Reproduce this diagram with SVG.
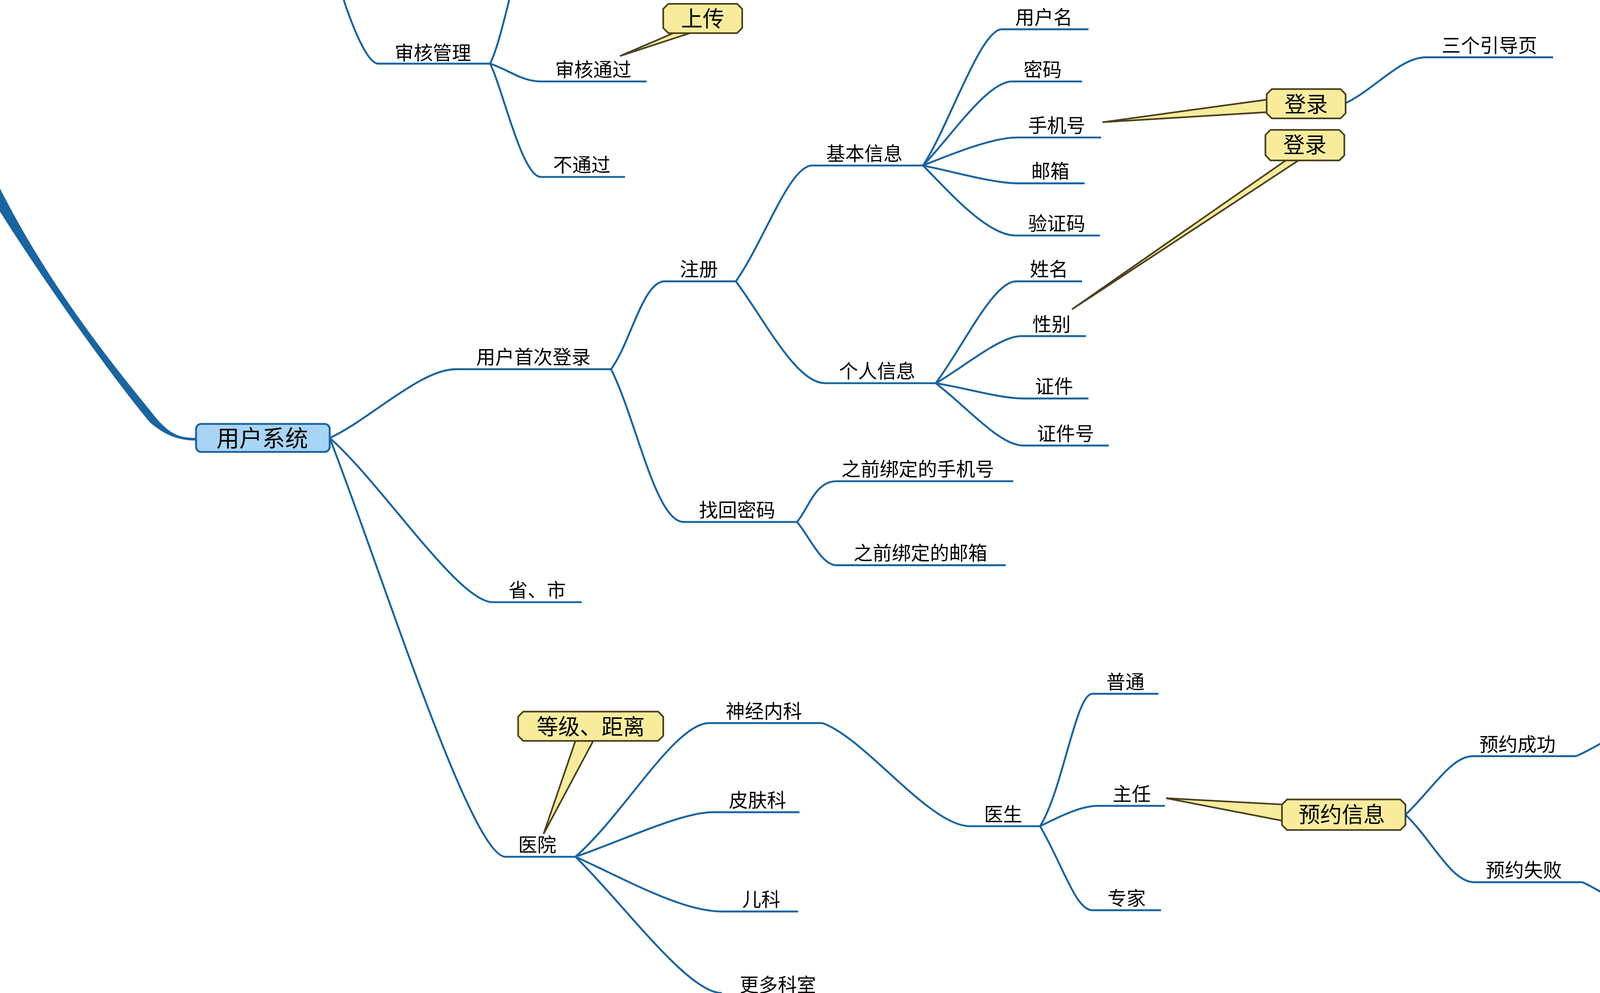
<svg xmlns="http://www.w3.org/2000/svg" width="5110" height="2543" viewBox="0 0 5110 2543">
<style>
.c{fill:none;stroke:#1a64a0;stroke-width:1.5}
.t{font-family:"Noto Sans CJK SC","Liberation Sans",sans-serif;font-size:15px;fill:#000;text-anchor:middle}
.r{font-size:18px}
.co{fill:#f8ec9c;stroke:#4a4020;stroke-width:1.3}
.ct{font-size:17px}
</style>
<rect width="5110" height="2543" fill="#fff"/>
<g transform="scale(3.259 3.2602)">
<g id="connectors">
<path d="M-4 140 C40 230 100 300 124 330 C135 342 142 344 154 344 L154 346 C140 346 130 342 118 332 C95 305 40 230 -4 160 Z" fill="#1a64a0"/>
<path class="c" d="M270 0 C280 30 290 50 297 50 L385 50"/>
<path class="c" d="M385 50 C390 40 395 20 400 0"/>
<path class="c" d="M385 50 C400 55 410 64 425 64 L508 64"/>
<path class="c" d="M385 50 C395 70 410 139 425 139 L491 139"/>
<path class="c" d="M259 344 C290 330 330 290 358 290 L480 290"/>
<path class="c" d="M480 290 C495 270 505 221 522 221 L578 221"/>
<path class="c" d="M578 221 C600 190 620 130 638 130 L725 130"/>
<path class="c" d="M725 130 C745 100 770 23 787 23 L855 23"/>
<path class="c" d="M725 130 C745 110 775 64 795 64 L850 64"/>
<path class="c" d="M725 130 C750 120 780 108 799 108 L865 108"/>
<path class="c" d="M725 130 C750 135 780 144 800 144 L852 144"/>
<path class="c" d="M725 130 C745 150 775 185 798 185 L864 185"/>
<path class="c" d="M578 221 C600 250 625 301 648 301 L735 301"/>
<path class="c" d="M735 301 C755 275 780 221 798 221 L850 221"/>
<path class="c" d="M735 301 C755 290 785 264 802 264 L853 264"/>
<path class="c" d="M735 301 C760 305 785 313 804 313 L855 313"/>
<path class="c" d="M735 301 C760 320 785 350 804 350 L871 350"/>
<path class="c" d="M480 290 C500 330 515 410 537 410 L626 410"/>
<path class="c" d="M626 410 C635 400 640 378 657 378 L796 378"/>
<path class="c" d="M626 410 C635 420 645 444 657 444 L790 444"/>
<path class="c" d="M259 344 C300 380 360 473 387 473 L457 473"/>
<path class="c" d="M259 344 C300 450 370 673 397 673 L452 673"/>
<path class="c" d="M452 673 C490 640 530 568 557 568 L646 568"/>
<path class="c" d="M452 673 C490 660 535 638 560 638 L628 638"/>
<path class="c" d="M452 673 C490 690 535 716 567 716 L627 716"/>
<path class="c" d="M452 673 C490 710 540 780 567 780"/>
<path class="c" d="M646 568 C680 580 730 649 762 649 L817 649"/>
<path class="c" d="M817 649 C835 620 845 545 858 545 L910 545"/>
<path class="c" d="M817 649 C835 640 850 633 862 633 L915 633"/>
<path class="c" d="M817 649 C835 680 845 715 858 715 L912 715"/>
<path class="c" d="M1057 81 C1080 70 1100 45 1120 45 L1220 45"/>
<path class="c" d="M1104 640 C1125 620 1140 594 1157 594 L1238 594"/>
<path class="c" d="M1238 594 C1270 580 1300 552 1330 552 L1388 552"/>
<path class="c" d="M1388 552 C1410 558 1440 576 1455 576 L1568 576"/>
<path class="c" d="M1104 640 C1125 660 1140 693 1158 693 L1243 693"/>
<path class="c" d="M1243 693 C1280 710 1310 746 1340 746 L1465 746"/>
</g>
<g id="root"><rect x="154" y="333" width="105" height="22" rx="4" fill="#a8d4f5" stroke="#1a64a0" stroke-width="1.5"/><text class="t r" x="206" y="351">用户系统</text></g>
<g id="n1"><text class="t" x="340" y="47">审核管理</text></g>
<g id="n2"><text class="t" x="466" y="60">审核通过</text></g>
<g id="n3"><text class="t" x="457" y="135">不通过</text></g>
<g id="n4"><text class="t" x="419" y="286">用户首次登录</text></g>
<g id="n5"><text class="t" x="549" y="217">注册</text></g>
<g id="n6"><text class="t" x="679" y="126">基本信息</text></g>
<g id="n7"><text class="t" x="820" y="19">用户名</text></g>
<g id="n8"><text class="t" x="819" y="60">密码</text></g>
<g id="n9"><text class="t" x="830" y="104">手机号</text></g>
<g id="n10"><text class="t" x="825" y="140">邮箱</text></g>
<g id="n11"><text class="t" x="830" y="181">验证码</text></g>
<g id="n12"><text class="t" x="689" y="297">个人信息</text></g>
<g id="n13"><text class="t" x="824" y="217">姓名</text></g>
<g id="n14"><text class="t" x="826" y="260">性别</text></g>
<g id="n15"><text class="t" x="828" y="309">证件</text></g>
<g id="n16"><text class="t" x="837" y="346">证件号</text></g>
<g id="n17"><text class="t" x="579" y="406">找回密码</text></g>
<g id="n18"><text class="t" x="721" y="374">之前绑定的手机号</text></g>
<g id="n19"><text class="t" x="723" y="440">之前绑定的邮箱</text></g>
<g id="n20"><text class="t" x="422" y="469">省、市</text></g>
<g id="n21"><text class="t" x="422" y="669">医院</text></g>
<g id="n22"><text class="t" x="600" y="564">神经内科</text></g>
<g id="n23"><text class="t" x="595" y="634">皮肤科</text></g>
<g id="n24"><text class="t" x="598" y="712">儿科</text></g>
<g id="n25"><text class="t" x="611" y="779">更多科室</text></g>
<g id="n26"><text class="t" x="788" y="645">医生</text></g>
<g id="n27"><text class="t" x="884" y="541">普通</text></g>
<g id="n28"><text class="t" x="889" y="629">主任</text></g>
<g id="n29"><text class="t" x="885" y="711">专家</text></g>
<g id="n30"><text class="t" x="1170" y="41">三个引导页</text></g>
<g id="n31"><text class="t" x="1192" y="590">预约成功</text></g>
<g id="n32"><text class="t" x="1358" y="548">付款</text></g>
<g id="n33"><text class="t" x="1516" y="572">收到短信提醒</text></g>
<g id="n34"><text class="t" x="1197" y="689">预约失败</text></g>
<g id="n35"><text class="t" x="1398" y="742">返回省、市那部</text></g>
<g id="callout1">
<polygon class="co" points="487,44 529,26 542,26"/>
<path class="co" d="M525 3 H579 L583 7 V22 L579 26 H525 L521 22 V7 Z"/>
<text class="t ct" x="552" y="21">上传</text></g>
<g id="callout2">
<polygon class="co" points="866,96 997,78 997,88"/>
<path class="co" d="M999 70 H1053 L1057 74 V89 L1053 93 H999 L995 89 V74 Z"/>
<text class="t ct" x="1026" y="88">登录</text></g>
<g id="callout3">
<polygon class="co" points="842,243 1010,126 1020,126"/>
<path class="co" d="M998 102 H1052 L1056 106 V122 L1052 126 H998 L994 122 V106 Z"/>
<text class="t ct" x="1025" y="120">登录</text></g>
<g id="callout4">
<polygon class="co" points="427,655 452,582 466,582"/>
<path class="co" d="M411 559 H517 L521 563 V578 L517 582 H411 L407 578 V563 Z"/>
<text class="t ct" x="464" y="577">等级、距离</text></g>
<g id="callout5">
<polygon class="co" points="916,627 1009,632 1009,645"/>
<path class="co" d="M1011 628 H1100 L1104 632 V648 L1100 652 H1011 L1007 648 V632 Z"/>
<text class="t ct" x="1054" y="646">预约信息</text></g>
</g>
</svg>
